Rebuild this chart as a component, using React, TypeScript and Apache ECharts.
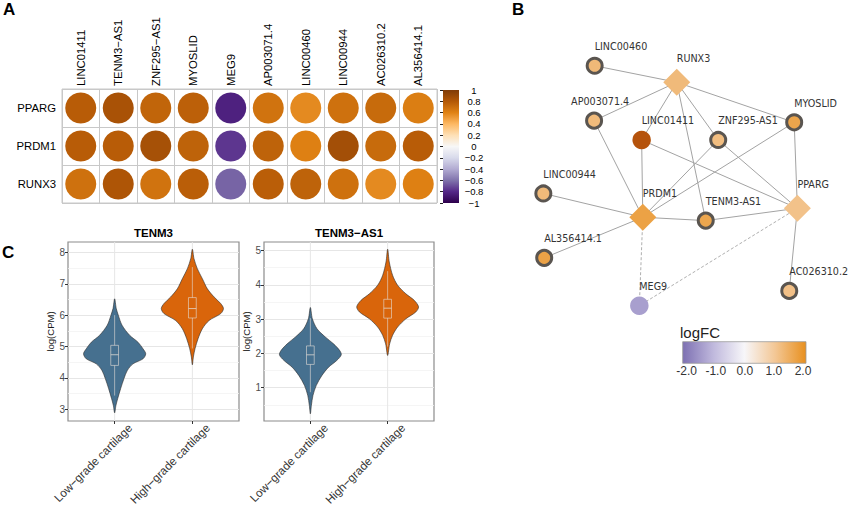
import { useEffect, useRef } from 'react';
import * as echarts from 'echarts';

// ---------------- Panel A : correlation matrix ----------------
const corrGenes = ['LINC01411', 'TENM3−AS1', 'ZNF295−AS1', 'MYOSLID', 'MEG9', 'AP003071.4', 'LINC00460', 'LINC00944', 'AC026310.2', 'AL356414.1'];
const corrTFs = ['PPARG', 'PRDM1', 'RUNX3'];
const corrPPARG = [0.78, 0.84, 0.74, 0.76, -0.83, 0.67, 0.57, 0.68, 0.71, 0.62];
const corrPRDM1 = [0.78, 0.78, 0.85, 0.75, -0.76, 0.75, 0.61, 0.86, 0.71, 0.78];
const corrRUNX3 = [0.68, 0.82, 0.67, 0.77, -0.64, 0.77, 0.75, 0.68, 0.57, 0.61];

// ---------------- Panel B : network ----------------
const netNodes = ['LINC00460', 'RUNX3', 'AP003071.4', 'LINC01411', 'ZNF295-AS1', 'MYOSLID', 'LINC00944', 'PRDM1', 'TENM3-AS1', 'PPARG', 'AL356414.1', 'MEG9', 'AC026310.2'];
const netLogFC = [1.25, 1.23, 1.22, 3.85, 1.18, 1.62, 1.23, 1.68, 1.6, 1.09, 1.67, -1.36, 1.12];
const netLayoutX = [22.3, 50.6, 22.1, 38.5, 64.9, 91.1, 4.6, 38.9, 60.6, 92.2, 4.9, 37.7, 89.4];
const netLayoutY = [9.2, 15.1, 28.8, 35.7, 35.7, 29.4, 54.8, 63.3, 64.5, 60.1, 77.8, 94.9, 89.6];
const netTFs = ['RUNX3', 'PRDM1', 'PPARG'];
const netNoRing = ['LINC01411', 'MEG9'];
const netEdgeFrom = ['RUNX3', 'RUNX3', 'RUNX3', 'RUNX3', 'RUNX3', 'RUNX3', 'PRDM1', 'PRDM1', 'PRDM1', 'PRDM1', 'PRDM1', 'PRDM1', 'PRDM1', 'PRDM1', 'PPARG', 'PPARG', 'PPARG', 'PPARG', 'PPARG', 'PPARG'];
const netEdgeTo = ['LINC00460', 'AP003071.4', 'LINC01411', 'ZNF295-AS1', 'TENM3-AS1', 'MYOSLID', 'AP003071.4', 'LINC01411', 'ZNF295-AS1', 'MYOSLID', 'LINC00944', 'TENM3-AS1', 'AL356414.1', 'MEG9', 'LINC01411', 'ZNF295-AS1', 'MYOSLID', 'TENM3-AS1', 'AC026310.2', 'MEG9'];
const netEdgeSign = [1, 1, 1, 1, 1, 1, 1, 1, 1, 1, 1, 1, 1, -1, 1, 1, 1, 1, 1, -1];
const logFCTicks = ['-2.0', '-1.0', '0.0', '1.0', '2.0'];

// ---------------- Panel C : violins ----------------
const cartilageGroups = ['Low−grade cartilage', 'High−grade cartilage'];
// [log(CPM), half width in x units]
const tenm3Low = [[6.52, 0], [6.21, 0.021], [6.0, 0.047], [5.68, 0.095], [5.36, 0.193], [5.14, 0.3], [4.93, 0.365], [4.77, 0.4], [4.61, 0.365], [4.45, 0.236], [4.24, 0.163], [3.98, 0.12], [3.66, 0.077], [3.34, 0.039], [3.13, 0.017], [2.89, 0]];
const tenm3High = [[8.1, 0], [7.8, 0.021], [7.48, 0.064], [7.16, 0.129], [6.84, 0.193], [6.58, 0.279], [6.37, 0.365], [6.21, 0.4], [6.05, 0.365], [5.83, 0.215], [5.57, 0.129], [5.25, 0.073], [4.93, 0.034], [4.67, 0.013], [4.42, 0]];
const tenm3AS1Low = [[3.34, 0], [3.01, 0.026], [2.72, 0.086], [2.48, 0.193], [2.28, 0.3], [2.09, 0.378], [1.96, 0.4], [1.8, 0.344], [1.6, 0.236], [1.36, 0.15], [1.07, 0.077], [0.78, 0.034], [0.48, 0.013], [0.24, 0]];
const tenm3AS1High = [[5.04, 0], [4.67, 0.021], [4.28, 0.064], [3.99, 0.129], [3.74, 0.236], [3.55, 0.344], [3.36, 0.4], [3.21, 0.365], [3.01, 0.236], [2.77, 0.129], [2.53, 0.064], [2.28, 0.026], [1.94, 0]];
// [lower whisker, q1, median, q3, upper whisker]
const tenm3Boxes = [[3.44, 4.4, 4.74, 5.04, 6.0], [4.94, 5.91, 6.21, 6.56, 7.53]];
const tenm3AS1Boxes = [[0.87, 1.68, 1.96, 2.22, 3.03], [2.2, 3.03, 3.32, 3.58, 4.4]];
const tenm3Ticks = [3, 4, 5, 6, 7, 8];
const tenm3AS1Ticks = [1, 2, 3, 4, 5];

// ---------------- styles ----------------
const SANS = 'Liberation Sans, Arial, Helvetica, sans-serif';
const NETFONT = 'DejaVu Sans, Verdana, sans-serif';
const puOr = ['#2d004b', '#542788', '#8073ac', '#b2abd2', '#d8daeb', '#f7f7f7', '#fee0b6', '#fdb863', '#e08214', '#b35806', '#7f3b08'];
const logFCColors = ['#7d70b2', '#c0b9dd', '#f7f6f9', '#f3c795', '#e8901f', '#cf7014', '#b04e0a'];
const violinFill = ['#46708f', '#d9650b'];

function minusFmt(v: number) {
  const r = Math.round(v * 10) / 10;
  if (r === 0) return '0';
  return String(r).replace('-', '−');
}

function violinSeries(gridIdx: number, profiles: number[][][], boxes: number[][], yMin: number, yMax: number) {
  return {
    type: 'custom',
    xAxisIndex: gridIdx,
    yAxisIndex: gridIdx,
    clip: false,
    data: boxes.map((b, i) => [i + 1, b[2]]),
    encode: { x: 0, y: 1 },
    renderItem: (params: any, api: any) => {
      const i = params.dataIndex;
      const cx = api.value(0);
      const prof = profiles[i];
      const right = prof.map(([v, w]) => api.coord([cx + w, v]));
      const left = prof.slice(1, -1).reverse().map(([v, w]) => api.coord([cx - w, v]));
      const [lo, q1, med, q3, hi] = boxes[i];
      const bw = 0.05;
      const p = (x: number, y: number) => api.coord([x, y]);
      const gTop = p(cx, yMax), gBot = p(cx, yMin);
      const a = p(cx - bw, q3), b = p(cx + bw, q1);
      const m1 = p(cx - bw, med), m2 = p(cx + bw, med);
      const wTop = p(cx, hi), wBot = p(cx, lo);
      const boxStroke = 'rgba(228,222,214,0.75)';
      return {
        type: 'group',
        children: [
          { type: 'line', shape: { x1: gTop[0], y1: gTop[1], x2: gBot[0], y2: gBot[1] }, style: { stroke: '#e6e6e6', lineWidth: 1 } },
          { type: 'polygon', shape: { points: right.concat(left), smooth: 0.3 }, style: { fill: violinFill[i], stroke: '#2a2a2a', lineWidth: 0.6 } },
          { type: 'line', shape: { x1: wTop[0], y1: wTop[1], x2: a[0] + (b[0] - a[0]) / 2, y2: a[1] }, style: { stroke: boxStroke, lineWidth: 0.8 } },
          { type: 'line', shape: { x1: wBot[0], y1: wBot[1], x2: a[0] + (b[0] - a[0]) / 2, y2: b[1] }, style: { stroke: boxStroke, lineWidth: 0.8 } },
          { type: 'rect', shape: { x: a[0], y: a[1], width: b[0] - a[0], height: b[1] - a[1] }, style: { fill: 'none', stroke: boxStroke, lineWidth: 0.8 } },
          { type: 'line', shape: { x1: m1[0], y1: m1[1], x2: m2[0], y2: m2[1] }, style: { stroke: boxStroke, lineWidth: 1 } },
        ],
      };
    },
  };
}

function violinXAxis(gridIdx: number) {
  return {
    type: 'value', gridIndex: gridIdx, min: 0.4, max: 2.6,
    axisLine: { show: false },
    axisTick: { show: true, customValues: [1, 2], length: 3, lineStyle: { color: '#333' } },
    axisLabel: {
      customValues: [1, 2], rotate: 45, margin: -12, fontSize: 11.6, color: '#333', fontFamily: SANS,
      verticalAlign: 'top', padding: [17, 1, 0, 0],
      formatter: (v: number) => cartilageGroups[Math.round(v) - 1],
    },
    splitLine: { show: false },
  };
}

function violinYAxis(gridIdx: number, min: number, max: number, ticks: number[], nameGap: number) {
  return {
    type: 'value', gridIndex: gridIdx, min, max,
    name: 'log(CPM)', nameLocation: 'middle', nameGap, nameRotate: 90,
    nameTextStyle: { fontSize: 9.5, color: '#1a1a1a', fontFamily: SANS },
    axisLine: { show: false },
    axisTick: { show: true, customValues: ticks, length: 3, lineStyle: { color: '#333' } },
    axisLabel: { customValues: ticks, fontSize: 10, color: '#4d4d4d', margin: 3, fontFamily: SANS },
    splitLine: { show: true, lineStyle: { color: '#e6e6e6', width: 1 } },
    minorTick: { show: false, splitNumber: 2 },
    minorSplitLine: { show: true, lineStyle: { color: '#f3f3f3', width: 0.8 } },
  };
}

function buildOption() {
  const corrRows = [corrPPARG, corrPRDM1, corrRUNX3];
  const corrData: number[][] = [];
  corrRows.forEach((row, r) => row.forEach((v, c) => corrData.push([c, r, v])));

  const idx = (n: string) => netNodes.indexOf(n);
  const nodeData = netNodes.map((n, i) => {
    const tf = netTFs.includes(n);
    const plain = netNoRing.includes(n);
    const shiftX = n === 'AP003071.4' ? -23 : 0;
    return {
      name: n,
      value: [netLayoutX[i], netLayoutY[i], netLogFC[i]],
      symbol: tf ? 'diamond' : 'circle',
      symbolSize: tf ? 27 : plain ? 18.5 : 15,
      itemStyle: tf || plain ? { borderWidth: 0 } : { borderColor: '#5a5550', borderWidth: 3 },
      label: { offset: [shiftX, -5] },
    };
  });
  const edgeData = netEdgeFrom.map((f, k) => {
    const a = idx(f), b = idx(netEdgeTo[k]);
    const neg = netEdgeSign[k] < 0;
    return {
      coords: [[netLayoutX[a], netLayoutY[a]], [netLayoutX[b], netLayoutY[b]]],
      lineStyle: neg
        ? { color: '#9a9a9a', width: 0.8, type: [3, 2], opacity: 1 }
        : { color: '#a3a3a3', width: 1, type: 'solid', opacity: 1 },
    };
  });

  const cbStops = puOr.slice().reverse().map((c, i, arr) => ({ offset: i / (arr.length - 1), color: c }));
  const lfStops = logFCColors.slice(0, 5).map((c, i) => ({ offset: i / 4, color: c }));

  const legendLeft = 682.7, legendTop = 341.7, legendW = 123.3, legendH = 21.6;

  return {
    animation: false,
    backgroundColor: '#ffffff',
    grid: [
      { left: 62, top: 89, width: 375, height: 114, show: true, borderColor: '#c8c8c8', borderWidth: 1 },
      { left: 443, top: 90, width: 16, height: 113 },
      { left: 530, top: 40, width: 290, height: 280 },
      { left: 68, top: 242, width: 171, height: 179, show: true, borderColor: '#8c8c8c', borderWidth: 1.2 },
      { left: 264, top: 242, width: 170, height: 179, show: true, borderColor: '#8c8c8c', borderWidth: 1.2 },
    ],
    xAxis: [
      {
        type: 'category', gridIndex: 0, data: corrGenes, position: 'top',
        axisLine: { show: false }, axisTick: { show: false },
        axisLabel: { show: false },
        splitLine: { show: true, interval: 0, lineStyle: { color: '#c8c8c8', width: 1 } },
      },
      { type: 'value', gridIndex: 1, min: 0, max: 1, show: false },
      { type: 'value', gridIndex: 2, min: 0, max: 100, show: false },
      violinXAxis(3),
      violinXAxis(4),
    ],
    yAxis: [
      {
        type: 'category', gridIndex: 0, data: corrTFs, inverse: true,
        axisLine: { show: false }, axisTick: { show: false },
        axisLabel: { margin: 6, fontSize: 11.3, color: '#000', fontFamily: SANS },
        splitLine: { show: true, interval: 0, lineStyle: { color: '#c8c8c8', width: 1 } },
      },
      {
        type: 'value', gridIndex: 1, min: -1, max: 1, interval: 0.2, position: 'right',
        axisLine: { show: false },
        axisTick: { show: true, inside: true, length: 3, lineStyle: { color: '#222' } },
        axisLabel: { align: 'center', margin: 15, fontSize: 9.5, color: '#000', fontFamily: SANS, formatter: minusFmt },
        splitLine: { show: false },
      },
      { type: 'value', gridIndex: 2, min: 0, max: 100, inverse: true, show: false },
      violinYAxis(3, 2.63, 8.33, tenm3Ticks, 12),
      violinYAxis(4, 0.03, 5.25, tenm3AS1Ticks, 9),
    ],
    visualMap: [
      { type: 'continuous', show: false, seriesIndex: 0, dimension: 2, min: -1, max: 1, inRange: { color: puOr } },
      { type: 'continuous', show: false, seriesIndex: 3, dimension: 2, min: -2, max: 4, inRange: { color: logFCColors } },
    ],
    series: [
      {
        type: 'scatter', xAxisIndex: 0, yAxisIndex: 0, data: corrData, symbolSize: 31,
        itemStyle: { opacity: 1 },
      },
      {
        type: 'custom', xAxisIndex: 1, yAxisIndex: 1, data: [[0, 0]],
        renderItem: (_p: any, api: any) => {
          const a = api.coord([0, 1]);
          const b = api.coord([1, -1]);
          return {
            type: 'rect',
            shape: { x: a[0], y: a[1], width: b[0] - a[0], height: b[1] - a[1] },
            style: { fill: new echarts.graphic.LinearGradient(0, 0, 0, 1, cbStops) },
          };
        },
      },
      {
        type: 'lines', coordinateSystem: 'cartesian2d', xAxisIndex: 2, yAxisIndex: 2,
        data: edgeData, z: 1, silent: true,
      },
      {
        type: 'scatter', xAxisIndex: 2, yAxisIndex: 2, data: nodeData, z: 3, clip: false,
        itemStyle: { opacity: 1 },
        label: {
          show: true, formatter: '{b}', position: ['50%', 0], align: 'left', verticalAlign: 'bottom',
          fontFamily: NETFONT, fontSize: 9.6, color: '#333',
        },
      },
      violinSeries(3, [tenm3Low, tenm3High], tenm3Boxes, 2.63, 8.33),
      violinSeries(4, [tenm3AS1Low, tenm3AS1High], tenm3AS1Boxes, 0.03, 5.25),
      {
        // column labels of panel A, placed through the category axis
        type: 'custom', xAxisIndex: 0, yAxisIndex: 0, clip: false, silent: true,
        data: corrGenes.map((_, i) => [i, 0]),
        encode: { x: 0, y: 1 },
        renderItem: (params: any, api: any) => {
          const c = api.coord([api.value(0), 0]);
          const top = params.coordSys.y;
          const t = corrGenes[params.dataIndex];
          return {
            type: 'text', x: c[0], y: top - 3, rotation: Math.PI / 2,
            style: {
              text: t, fontSize: 11.3, fontFamily: SANS, fill: '#000',
              textAlign: 'left', align: 'left', textVerticalAlign: 'middle', verticalAlign: 'middle',
            },
          };
        },
      },
    ],
    graphic: [
      { type: 'text', x: 3, y: 1, style: { text: 'A', fontSize: 17, fontWeight: 'bold', fontFamily: SANS, fill: '#000' } },
      { type: 'text', x: 512, y: 1, style: { text: 'B', fontSize: 17, fontWeight: 'bold', fontFamily: SANS, fill: '#000' } },
      { type: 'text', x: 2, y: 244, style: { text: 'C', fontSize: 17, fontWeight: 'bold', fontFamily: SANS, fill: '#000' } },
      { type: 'text', x: 153.5, y: 233, style: { text: 'TENM3', fontSize: 11.5, fontWeight: 'bold', fontFamily: SANS, fill: '#000', textAlign: 'center', align: 'center', textVerticalAlign: 'middle', verticalAlign: 'middle' } },
      { type: 'text', x: 349, y: 233, style: { text: 'TENM3−AS1', fontSize: 11.5, fontWeight: 'bold', fontFamily: SANS, fill: '#000', textAlign: 'center', align: 'center', textVerticalAlign: 'middle', verticalAlign: 'middle' } },
      { type: 'text', x: 680, y: 332, style: { text: 'logFC', fontSize: 15, fontFamily: SANS, fill: '#222', textVerticalAlign: 'middle', verticalAlign: 'middle' } },
      {
        type: 'rect', shape: { x: legendLeft, y: legendTop, width: legendW, height: legendH },
        style: { fill: new echarts.graphic.LinearGradient(0, 0, 1, 0, lfStops), stroke: '#9a9a9a', lineWidth: 0.8 },
      },
      ...logFCTicks.map((t, i) => ({
        type: 'text',
        x: legendLeft + 4 + (i / (logFCTicks.length - 1)) * (legendW - 7),
        y: legendTop + legendH + 7.5,
        style: { text: t, fontSize: 12, fontFamily: SANS, fill: '#333', textAlign: 'center', align: 'center', textVerticalAlign: 'middle', verticalAlign: 'middle' },
      })),
    ],
  };
}

export default function App() {
  const ref = useRef<HTMLDivElement>(null);
  useEffect(() => {
    const chart = echarts.init(ref.current!, null, { renderer: 'svg' });
    chart.setOption(buildOption() as any);
    return () => chart.dispose();
  }, []);
  return (
    <div
      ref={ref}
      style={{ position: 'fixed', left: 0, top: 0, width: 850, height: 509, background: '#fff' }}
    />
  );
}
